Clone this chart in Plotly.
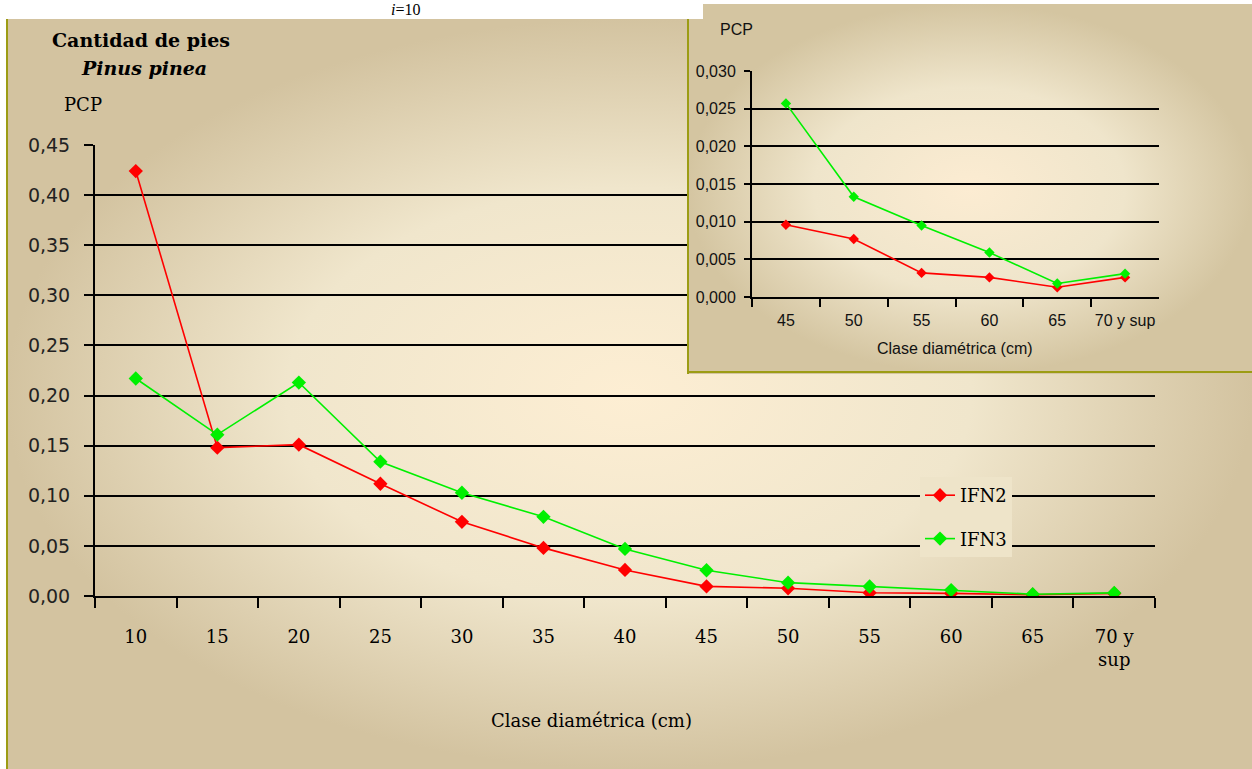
import base64
import plotly.graph_objects as go

W, H = 1252, 769

# ---------------- data ----------------
categories = ["10", "15", "20", "25", "30", "35", "40", "45", "50", "55", "60", "65", "70 y<br>sup"]
inset_categories = ["45", "50", "55", "60", "65", "70 y sup"]
ifn2 = [0.424, 0.148, 0.151, 0.112, 0.074, 0.048, 0.026, 0.0096, 0.0077, 0.0032, 0.0026, 0.0013, 0.0026]
ifn3 = [0.217, 0.161, 0.213, 0.134, 0.103, 0.079, 0.047, 0.0257, 0.0133, 0.0095, 0.0059, 0.0018, 0.0031]
inset_start = 7  # inset shows classes 45 .. 70 y sup

RED = "#ff0000"
GREEN = "#00f000"
OLIVE = "#9c9c14"
SERIF = "DejaVu Serif"
SANS = "Liberation Sans"


def px(x):
    return x / W


def py(y):
    return 1 - y / H


def svg_uri(svg):
    return "data:image/svg+xml;base64," + base64.b64encode(svg.encode("utf-8")).decode("ascii")


main_svg = f"""<svg xmlns='http://www.w3.org/2000/svg' width='{W}' height='{H}' viewBox='0 0 {W} {H}' preserveAspectRatio='none'>
<defs><radialGradient id='g' cx='0.5' cy='0.5' r='0.5'>
<stop offset='0' stop-color='#fdeed3'/><stop offset='0.55' stop-color='#f0e6cc'/><stop offset='1' stop-color='#d3c3a0'/>
</radialGradient></defs>
<rect x='0' y='0' width='{W}' height='{H}' fill='#ffffff'/>
<rect x='6' y='19' width='{W - 6}' height='{H - 19}' fill='url(#g)'/>
<rect x='6' y='19' width='2' height='{H - 19}' fill='{OLIVE}'/>
</svg>"""

IW, IH = 565, 370
inset_svg = f"""<svg xmlns='http://www.w3.org/2000/svg' width='{IW}' height='{IH}' viewBox='0 0 {IW} {IH}' preserveAspectRatio='none'>
<defs><radialGradient id='g2' cx='0.5' cy='0.5' r='0.5'>
<stop offset='0' stop-color='#fcecd2'/><stop offset='0.55' stop-color='#efe5cb'/><stop offset='1' stop-color='#d4c5a1'/>
</radialGradient></defs>
<rect x='0' y='0' width='{IW}' height='{IH}' fill='url(#g2)'/>
<rect x='0' y='0' width='2' height='{IH}' fill='{OLIVE}'/>
<rect x='0' y='{IH - 3}' width='{IW}' height='2' fill='{OLIVE}'/>
</svg>"""

fig = go.Figure()

# main chart traces
fig.add_trace(go.Scatter(
    x=categories, y=ifn2, name="IFN2", mode="lines+markers", legendgroup="a",
    line=dict(color=RED, width=1.6), marker=dict(symbol="diamond", size=11, color=RED),
    xaxis="x", yaxis="y"))
fig.add_trace(go.Scatter(
    x=categories, y=ifn3, name="IFN3", mode="lines+markers", legendgroup="b",
    line=dict(color=GREEN, width=1.6), marker=dict(symbol="diamond", size=11, color=GREEN),
    xaxis="x", yaxis="y"))

# cover subplot (holds the inset background above the main chart)
fig.add_trace(go.Scatter(x=[], y=[], xaxis="x2", yaxis="y2", showlegend=False, hoverinfo="skip"))

# inset traces
fig.add_trace(go.Scatter(
    x=inset_categories, y=ifn2[inset_start:], mode="lines+markers", showlegend=False,
    line=dict(color=RED, width=1.6), marker=dict(symbol="diamond", size=8, color=RED),
    xaxis="x3", yaxis="y3"))
fig.add_trace(go.Scatter(
    x=inset_categories, y=ifn3[inset_start:], mode="lines+markers", showlegend=False,
    line=dict(color=GREEN, width=1.6), marker=dict(symbol="diamond", size=8, color=GREEN),
    xaxis="x3", yaxis="y3"))

fig.update_layout(
    width=W, height=H, autosize=False,
    margin=dict(l=0, r=0, t=0, b=0, pad=0, autoexpand=False),
    paper_bgcolor="#ffffff", plot_bgcolor="rgba(0,0,0,0)",
    separators=",.",
    showlegend=True,
    legend=dict(
        x=px(920), y=py(477), xanchor="left", yanchor="top",
        bgcolor="#eee4c9", borderwidth=0,
        font=dict(family=SERIF, size=18, color="#000000"),
        traceorder="grouped", tracegroupgap=17,
    ),
    xaxis=dict(
        domain=[px(95), px(1155)], anchor="y", type="category",
        categoryorder="array", categoryarray=categories, range=[-0.5, len(categories) - 0.5],
        showgrid=False, zeroline=False, showline=True, linecolor="#000000", linewidth=2,
        ticks="outside", tickson="boundaries", ticklen=10, tickwidth=2, tickcolor="#000000",
        tickfont=dict(family=SERIF, size=18, color="#000000"), ticklabelstandoff=23,
        fixedrange=True, automargin=False,
    ),
    yaxis=dict(
        domain=[py(596), py(145)], anchor="x", range=[0, 0.45], tick0=0, dtick=0.05,
        tickformat=".2f", showgrid=True, gridcolor="#000000", gridwidth=2,
        zeroline=False, showline=True, linecolor="#000000", linewidth=2,
        ticks="outside", ticklen=9, tickwidth=2, tickcolor="#000000",
        tickfont=dict(family="DejaVu Sans", size=19, color="#222222"), ticklabelstandoff=10,
        fixedrange=True, automargin=False,
    ),
    xaxis2=dict(domain=[px(687), 1], anchor="y2", range=[0, 1], visible=False, fixedrange=True),
    yaxis2=dict(domain=[py(374), py(4)], anchor="x2", range=[0, 1], visible=False, fixedrange=True),
    xaxis3=dict(
        domain=[px(752), px(1159)], anchor="y3", type="category",
        categoryorder="array", categoryarray=inset_categories,
        range=[-0.5, len(inset_categories) - 0.5],
        showgrid=False, zeroline=False, showline=True, linecolor="#000000", linewidth=2,
        ticks="outside", tickson="boundaries", ticklen=8, tickwidth=2, tickcolor="#000000",
        tickfont=dict(family=SANS, size=16, color="#111111"), ticklabelstandoff=8,
        fixedrange=True, automargin=False,
    ),
    yaxis3=dict(
        domain=[py(297), py(71)], anchor="x3", range=[0, 0.030], tick0=0, dtick=0.005,
        tickformat=".3f", showgrid=True, gridcolor="#000000", gridwidth=2,
        zeroline=False, showline=True, linecolor="#000000", linewidth=2,
        ticks="outside", ticklen=6, tickwidth=2, tickcolor="#000000",
        tickfont=dict(family=SANS, size=16, color="#111111"), ticklabelstandoff=5,
        fixedrange=True, automargin=False,
    ),
    images=[
        dict(source=svg_uri(main_svg), xref="paper", yref="paper", x=0, y=1,
             sizex=1, sizey=1, sizing="stretch", xanchor="left", yanchor="top", layer="below"),
        dict(source=svg_uri(inset_svg), xref="x2", yref="y2", x=0, y=1,
             sizex=1, sizey=1, sizing="stretch", xanchor="left", yanchor="top", layer="below"),
    ],
    shapes=[
        dict(type="rect", xref="paper", yref="paper", x0=0, x1=px(703), y0=py(19), y1=1,
             fillcolor="#ffffff", line=dict(width=0), layer="above"),
    ],
)

annotations = [
    dict(text="<i>i</i>=10", x=px(405), y=py(9), xanchor="center", yanchor="middle",
         font=dict(family="Liberation Serif", size=16, color="#000000")),
    dict(text="<b>Cantidad de pies</b>", x=px(50), y=py(40), xanchor="left", yanchor="middle",
         font=dict(family=SERIF, size=19, color="#000000")),
    dict(text="<b><i>Pinus pinea</i></b>", x=px(79), y=py(68), xanchor="left", yanchor="middle",
         font=dict(family=SERIF, size=19, color="#000000")),
    dict(text="PCP", x=px(62), y=py(104), xanchor="left", yanchor="middle",
         font=dict(family=SERIF, size=18, color="#000000")),
    dict(text="Clase diamétrica (cm)", x=px(591), y=py(720), xanchor="center", yanchor="middle",
         font=dict(family=SERIF, size=18, color="#000000")),
    dict(text="PCP", x=px(718), y=py(29), xanchor="left", yanchor="middle",
         font=dict(family=SANS, size=16, color="#111111")),
    dict(text="Clase diamétrica (cm)", x=px(955), y=py(349), xanchor="center", yanchor="middle",
         font=dict(family=SANS, size=16, color="#111111")),
]
for a in annotations:
    a.update(xref="paper", yref="paper", showarrow=False)
fig.update_layout(annotations=annotations)

fig.write_html("out.html", config={"displayModeBar": False},
               post_script="document.body.style.margin = '0px';")
